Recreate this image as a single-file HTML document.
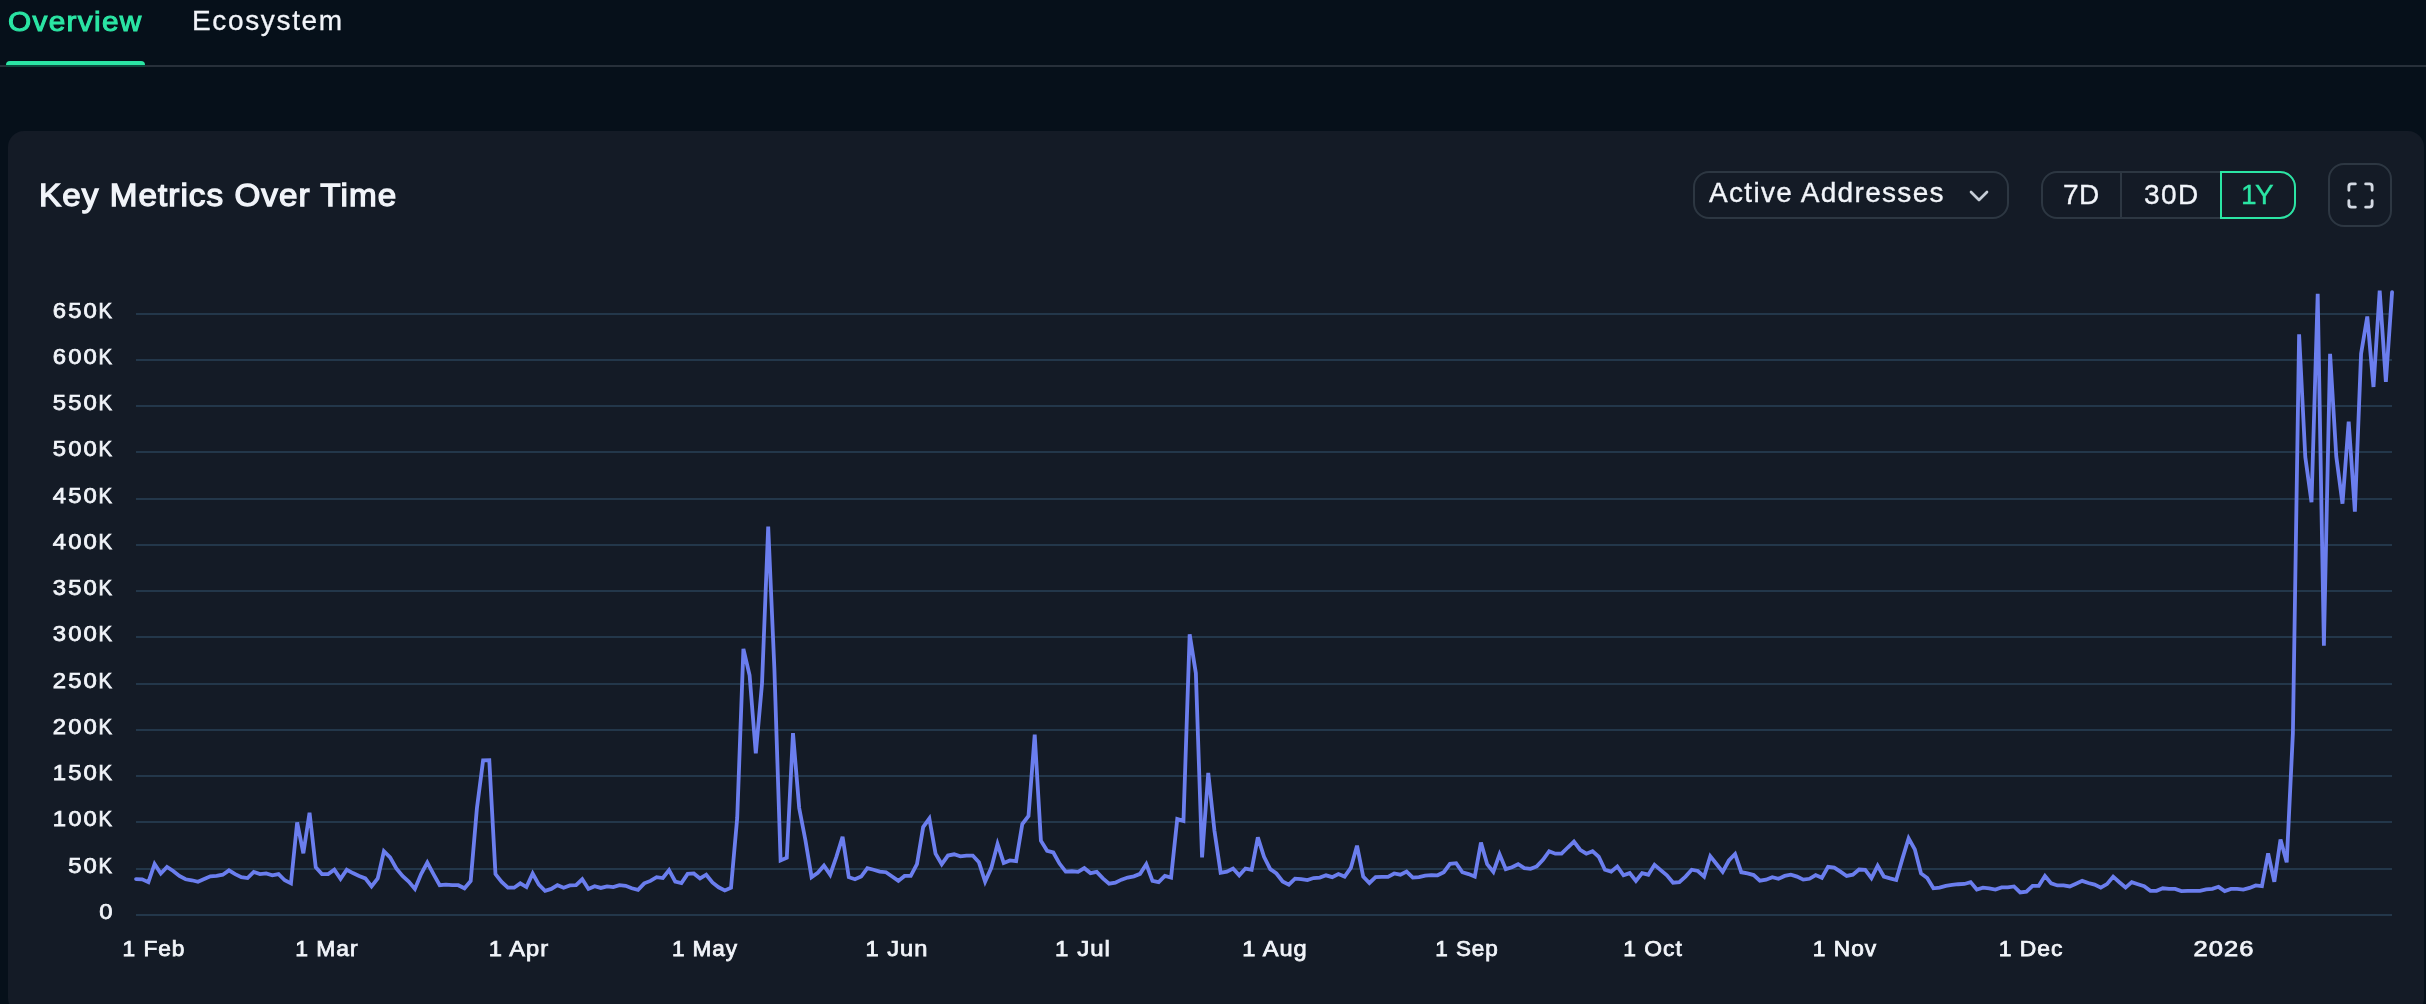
<!DOCTYPE html>
<html><head><meta charset="utf-8"><title>Key Metrics Over Time</title>
<style>
html,body{margin:0;padding:0;width:2426px;height:1004px;overflow:hidden;}
#root{position:absolute;left:0;top:0;width:2426px;height:1004px;overflow:hidden;background:#06101a;}
body{width:2426px;height:1004px;overflow:hidden;background:#06101a;font-family:"Liberation Sans",sans-serif;color:#f1f4f9;position:relative;}
.abs{position:absolute;white-space:nowrap;}
.tab,#title,#ddt,.st,.yl,.xl{will-change:transform;}
.tab{position:absolute;top:2px;font-size:28px;line-height:40px;white-space:nowrap;}
#t1{left:8.2px;top:2.3px;color:#2be5a4;font-size:27.0px;font-weight:normal;-webkit-text-stroke:1.0px #2be5a4;letter-spacing:1.2px;transform:scaleX(1.1024);transform-origin:0 50%;}
#t2{left:191.6px;top:1px;color:#f1f4f9;letter-spacing:1.65px;-webkit-text-stroke:0.3px #f1f4f9;}
#ul{position:absolute;left:6px;top:61px;width:139px;height:4px;background:#2be5a4;border-radius:4px 4px 0 0;}
#ulsh{position:absolute;left:6px;top:65px;width:139px;height:2px;background:#0c4a3d;z-index:2;}
#hr{position:absolute;left:0;top:65px;width:2426px;height:2px;background:#27303a;}
#card{position:absolute;left:8px;top:131px;width:2416px;height:883px;background:#141b26;border-radius:16px;}
#title{position:absolute;left:38.9px;top:174.8px;font-size:31.8px;line-height:40px;font-weight:normal;-webkit-text-stroke:1.3px #f1f4f9;letter-spacing:1.0px;white-space:nowrap;color:#f1f4f9;transform:scaleX(1.0456);transform-origin:0 50%;}
.box{position:absolute;box-sizing:border-box;border:2px solid #2d3742;border-radius:16px;}
#dd{left:1693px;top:171px;width:316px;height:48px;}
#ddt{position:absolute;left:1709px;top:173.4px;font-size:28px;line-height:40px;letter-spacing:1.32px;white-space:nowrap;-webkit-text-stroke:0.35px #f1f4f9;}
#seg{left:2041px;top:171px;width:255px;height:48px;}
#div1{position:absolute;left:2120px;top:171px;width:2px;height:48px;background:#2d3742;}
#act{position:absolute;box-sizing:border-box;left:2220px;top:171px;width:76px;height:48px;border:2px solid #2be5a4;border-radius:0 16px 16px 0;}
.st{position:absolute;top:174.5px;font-size:28px;line-height:40px;white-space:nowrap;letter-spacing:0.5px;-webkit-text-stroke:0.35px currentColor;}
#fs{left:2328px;top:163px;width:64px;height:64px;}
.yl{position:absolute;left:0;width:112.5px;text-align:right;font-size:21.2px;line-height:30px;font-weight:normal;-webkit-text-stroke:0.75px #f1f4f9;letter-spacing:1.9px;white-space:nowrap;color:#f1f4f9;transform-origin:100% 50%;}
.k{display:inline-block;transform:scaleX(0.85);transform-origin:100% 50%;margin-left:-2.1px;letter-spacing:0;}
.xl{position:absolute;top:933.6px;width:200px;text-align:center;font-size:21.2px;line-height:30px;font-weight:normal;-webkit-text-stroke:0.75px #f1f4f9;letter-spacing:0.9px;white-space:nowrap;color:#f1f4f9;transform-origin:50% 50%;}
svg{position:absolute;left:0;top:0;}
</style></head>
<body>
<div id="root">
<div class="tab" id="t1">Overview</div>
<div class="tab" id="t2">Ecosystem</div>
<div id="hr"></div>
<div id="ulsh"></div>
<div id="ul"></div>
<div id="card"></div>
<div id="title">Key Metrics Over Time</div>

<div class="box" id="dd"></div>
<div id="ddt">Active Addresses</div>
<svg style="left:1963.2px;top:180.4px" width="32" height="32" viewBox="0 0 24 24" fill="none" stroke="#c5ccd6" stroke-width="2" stroke-linecap="round" stroke-linejoin="round"><path d="m6 9 6 6 6-6"/></svg>

<div class="box" id="seg"></div>
<div id="div1"></div>
<div id="act"></div>
<div class="st" style="left:2063px">7D</div>
<div class="st" style="left:2144px;letter-spacing:1.4px">30D</div>
<div class="st" style="left:2241.2px;letter-spacing:-1.6px;color:#2be5a4">1Y</div>

<div class="box" id="fs"></div>
<svg style="left:2344.6px;top:179.6px" width="31" height="31" viewBox="0 0 24 24" fill="none" stroke="#d3d9e2" stroke-width="2.2" stroke-linecap="round" stroke-linejoin="round"><path d="M8 3H5a2 2 0 0 0-2 2v3"/><path d="M21 8V5a2 2 0 0 0-2-2h-3"/><path d="M3 16v3a2 2 0 0 0 2 2h3"/><path d="M16 21h3a2 2 0 0 0 2-2v-3"/></svg>

<svg width="2426" height="1004" viewBox="0 0 2426 1004">
<rect x="136" y="914.00" width="2256" height="2" fill="#23374a"/>
<rect x="136" y="868.00" width="2256" height="2" fill="#23374a"/>
<rect x="136" y="821.00" width="2256" height="2" fill="#23374a"/>
<rect x="136" y="775.00" width="2256" height="2" fill="#23374a"/>
<rect x="136" y="729.00" width="2256" height="2" fill="#23374a"/>
<rect x="136" y="683.00" width="2256" height="2" fill="#23374a"/>
<rect x="136" y="636.00" width="2256" height="2" fill="#23374a"/>
<rect x="136" y="590.00" width="2256" height="2" fill="#23374a"/>
<rect x="136" y="544.00" width="2256" height="2" fill="#23374a"/>
<rect x="136" y="498.00" width="2256" height="2" fill="#23374a"/>
<rect x="136" y="451.00" width="2256" height="2" fill="#23374a"/>
<rect x="136" y="405.00" width="2256" height="2" fill="#23374a"/>
<rect x="136" y="359.00" width="2256" height="2" fill="#23374a"/>
<rect x="136" y="313.00" width="2256" height="2" fill="#23374a"/>
<path d="M136.00 879.03 L142.20 879.28 L148.40 882.12 L154.59 863.95 L160.79 873.47 L166.99 866.91 L173.19 870.99 L179.39 875.94 L185.58 879.28 L191.78 880.27 L197.98 881.75 L204.18 879.03 L210.38 876.31 L216.57 875.94 L222.77 874.70 L228.97 870.38 L235.17 874.09 L241.37 877.18 L247.56 878.04 L253.76 871.86 L259.96 874.09 L266.16 873.47 L272.36 875.32 L278.55 874.09 L284.75 880.27 L290.95 883.36 L297.15 822.40 L303.35 853.31 L309.54 812.75 L315.74 867.28 L321.94 874.09 L328.14 874.09 L334.34 869.76 L340.53 878.78 L346.73 869.76 L352.93 873.10 L359.13 875.94 L365.33 878.41 L371.52 886.45 L377.72 878.41 L383.92 851.21 L390.12 857.39 L396.32 868.52 L402.51 875.94 L408.71 881.50 L414.91 888.92 L421.11 874.09 L427.31 862.59 L433.50 874.09 L439.70 885.21 L445.90 884.60 L452.10 885.21 L458.30 885.21 L464.49 888.31 L470.69 880.89 L476.89 808.50 L483.09 760.40 L489.29 760.30 L495.48 874.09 L501.68 881.88 L507.88 887.69 L514.08 887.69 L520.28 883.36 L526.47 887.07 L532.67 873.47 L538.87 884.60 L545.07 890.78 L551.27 888.92 L557.46 885.21 L563.66 887.69 L569.86 885.46 L576.06 885.21 L582.26 879.28 L588.45 888.92 L594.65 886.20 L600.85 887.93 L607.05 886.45 L613.25 887.07 L619.44 885.21 L625.64 885.83 L631.84 888.31 L638.04 889.91 L644.24 883.36 L650.43 880.89 L656.63 877.18 L662.83 878.04 L669.03 870.13 L675.23 881.50 L681.42 882.99 L687.62 873.84 L693.82 873.47 L700.02 878.41 L706.22 874.70 L712.41 882.49 L718.61 887.32 L724.81 890.41 L731.01 887.69 L737.21 818.00 L743.40 648.90 L749.60 675.20 L755.80 753.40 L762.00 684.00 L768.20 526.50 L774.39 669.00 L780.59 860.48 L786.79 857.76 L792.99 733.10 L799.19 808.00 L805.38 840.00 L811.58 877.18 L817.78 872.85 L823.98 865.68 L830.18 874.70 L836.37 856.77 L842.57 836.74 L848.77 877.18 L854.97 879.28 L861.17 876.56 L867.36 868.15 L873.56 869.76 L879.76 871.61 L885.96 872.23 L892.16 876.56 L898.35 880.89 L904.55 875.94 L910.75 875.94 L916.95 864.19 L923.15 827.10 L929.34 818.56 L935.54 853.68 L941.74 864.19 L947.94 855.54 L954.14 854.30 L960.33 856.40 L966.53 855.54 L972.73 855.54 L978.93 862.34 L985.13 881.63 L991.32 867.90 L997.52 844.04 L1003.72 862.96 L1009.92 860.48 L1016.12 861.10 L1022.31 824.01 L1028.51 815.97 L1034.71 734.60 L1040.91 840.70 L1047.11 850.84 L1053.30 852.45 L1059.50 863.57 L1065.70 871.61 L1071.90 871.24 L1078.10 871.86 L1084.29 868.15 L1090.49 873.10 L1096.69 871.86 L1102.89 878.41 L1109.09 883.73 L1115.28 882.74 L1121.48 879.65 L1127.68 877.55 L1133.88 876.31 L1140.08 873.84 L1146.27 864.19 L1152.47 880.89 L1158.67 882.12 L1164.87 875.94 L1171.07 877.55 L1177.26 819.06 L1183.46 820.91 L1189.66 634.40 L1195.86 673.30 L1202.06 857.39 L1208.25 772.90 L1214.45 830.81 L1220.65 872.85 L1226.85 871.61 L1233.05 868.52 L1239.24 875.32 L1245.44 868.52 L1251.64 869.76 L1257.84 837.36 L1264.04 856.77 L1270.23 869.14 L1276.43 873.47 L1282.63 881.50 L1288.83 884.60 L1295.03 878.66 L1301.22 879.03 L1307.42 880.02 L1313.62 878.04 L1319.82 877.55 L1326.02 875.32 L1332.21 877.18 L1338.41 874.09 L1344.61 876.56 L1350.81 867.90 L1357.01 845.64 L1363.20 876.56 L1369.40 882.99 L1375.60 877.18 L1381.80 876.93 L1388.00 876.81 L1394.19 873.47 L1400.39 874.70 L1406.59 871.61 L1412.79 877.55 L1418.99 877.18 L1425.18 875.57 L1431.38 875.07 L1437.58 875.32 L1443.78 872.23 L1449.98 863.82 L1456.17 863.20 L1462.37 872.23 L1468.57 874.09 L1474.77 876.56 L1480.97 842.55 L1487.16 864.19 L1493.36 871.86 L1499.56 854.30 L1505.76 869.14 L1511.96 867.28 L1518.15 864.19 L1524.35 868.15 L1530.55 868.89 L1536.75 866.42 L1542.95 859.87 L1549.14 851.21 L1555.34 853.68 L1561.54 853.68 L1567.74 847.50 L1573.94 841.69 L1580.13 849.73 L1586.33 853.68 L1592.53 851.21 L1598.73 856.77 L1604.93 869.76 L1611.12 871.61 L1617.32 866.42 L1623.52 875.32 L1629.72 873.10 L1635.92 880.89 L1642.11 873.10 L1648.31 874.70 L1654.51 864.81 L1660.71 870.13 L1666.91 875.32 L1673.10 882.74 L1679.30 882.12 L1685.50 876.56 L1691.70 869.76 L1697.90 870.99 L1704.09 876.56 L1710.29 856.16 L1716.49 863.95 L1722.69 871.86 L1728.89 860.48 L1735.08 854.05 L1741.28 872.23 L1747.48 873.47 L1753.68 875.07 L1759.88 880.64 L1766.07 879.65 L1772.27 877.18 L1778.47 878.78 L1784.67 875.94 L1790.87 874.70 L1797.06 876.56 L1803.26 879.65 L1809.46 878.78 L1815.66 875.07 L1821.86 877.80 L1828.05 866.91 L1834.25 867.66 L1840.45 871.61 L1846.65 875.94 L1852.85 874.70 L1859.04 869.51 L1865.24 869.76 L1871.44 878.04 L1877.64 865.80 L1883.84 876.56 L1890.03 878.41 L1896.23 880.02 L1902.43 858.63 L1908.63 838.23 L1914.83 849.35 L1921.02 873.47 L1927.22 878.04 L1933.42 888.31 L1939.62 887.69 L1945.82 885.83 L1952.01 884.97 L1958.21 884.23 L1964.41 883.98 L1970.61 882.12 L1976.81 889.54 L1983.00 887.69 L1989.20 888.31 L1995.40 889.54 L2001.60 887.44 L2007.80 887.44 L2013.99 886.45 L2020.19 892.39 L2026.39 891.64 L2032.59 885.83 L2038.79 885.83 L2044.98 875.94 L2051.18 883.36 L2057.38 885.46 L2063.58 885.46 L2069.78 886.45 L2075.97 883.73 L2082.17 880.89 L2088.37 882.99 L2094.57 884.60 L2100.77 887.69 L2106.96 884.10 L2113.16 876.68 L2119.36 882.25 L2125.56 887.56 L2131.76 882.12 L2137.95 884.23 L2144.15 886.20 L2150.35 890.78 L2156.55 890.78 L2162.75 888.31 L2168.94 888.92 L2175.14 888.92 L2181.34 891.15 L2187.54 890.90 L2193.74 890.90 L2199.93 890.78 L2206.13 889.30 L2212.33 888.92 L2218.53 886.82 L2224.73 891.15 L2230.92 888.92 L2237.12 888.92 L2243.32 889.54 L2249.52 887.93 L2255.72 885.46 L2261.91 886.20 L2268.11 853.44 L2274.31 881.75 L2280.51 839.59 L2286.71 862.34 L2292.90 733.20 L2299.10 334.40 L2305.30 457.00 L2311.50 502.20 L2317.70 293.70 L2323.89 645.60 L2330.09 353.90 L2336.29 456.50 L2342.49 503.70 L2348.69 421.60 L2354.88 511.60 L2361.08 353.70 L2367.28 316.50 L2373.48 387.00 L2379.68 290.60 L2385.87 381.80 L2392.07 292.10" fill="none" stroke="#6b7eee" stroke-width="3.8" stroke-linejoin="miter" stroke-miterlimit="4" stroke-linecap="round"/>
</svg>
<div class="yl" style="top:897.10px;transform:scaleX(1.1250)"><span style="letter-spacing:0">0</span></div>
<div class="yl" style="top:851.10px;transform:scaleX(1.1250)">50<span class="k">K</span></div>
<div class="yl" style="top:804.10px;transform:scaleX(1.1250)">100<span class="k">K</span></div>
<div class="yl" style="top:758.10px;transform:scaleX(1.1250)">150<span class="k">K</span></div>
<div class="yl" style="top:712.10px;transform:scaleX(1.1250)">200<span class="k">K</span></div>
<div class="yl" style="top:666.10px;transform:scaleX(1.1250)">250<span class="k">K</span></div>
<div class="yl" style="top:619.10px;transform:scaleX(1.1250)">300<span class="k">K</span></div>
<div class="yl" style="top:573.10px;transform:scaleX(1.1250)">350<span class="k">K</span></div>
<div class="yl" style="top:527.10px;transform:scaleX(1.1250)">400<span class="k">K</span></div>
<div class="yl" style="top:481.10px;transform:scaleX(1.1250)">450<span class="k">K</span></div>
<div class="yl" style="top:434.10px;transform:scaleX(1.1250)">500<span class="k">K</span></div>
<div class="yl" style="top:388.10px;transform:scaleX(1.1250)">550<span class="k">K</span></div>
<div class="yl" style="top:342.10px;transform:scaleX(1.1250)">600<span class="k">K</span></div>
<div class="yl" style="top:296.10px;transform:scaleX(1.1250)">650<span class="k">K</span></div>
<div class="xl" style="left:53.65px;transform:scaleX(1.0725)">1 Feb</div>
<div class="xl" style="left:226.80px;transform:scaleX(1.0800)">1 Mar</div>
<div class="xl" style="left:419.20px;transform:scaleX(1.1183)">1 Apr</div>
<div class="xl" style="left:604.95px;transform:scaleX(1.0641)">1 May</div>
<div class="xl" style="left:796.85px;transform:scaleX(1.1161)">1 Jun</div>
<div class="xl" style="left:982.80px;transform:scaleX(1.1329)">1 Jul</div>
<div class="xl" style="left:1175.45px;transform:scaleX(1.1163)">1 Aug</div>
<div class="xl" style="left:1367.10px;transform:scaleX(1.0618)">1 Sep</div>
<div class="xl" style="left:1553.35px;transform:scaleX(1.0785)">1 Oct</div>
<div class="xl" style="left:1745.30px;transform:scaleX(1.0731)">1 Nov</div>
<div class="xl" style="left:1931.25px;transform:scaleX(1.0795)">1 Dec</div>
<div class="xl" style="left:2123.90px;transform:scaleX(1.2043)">2026</div>

</div>
</body></html>
